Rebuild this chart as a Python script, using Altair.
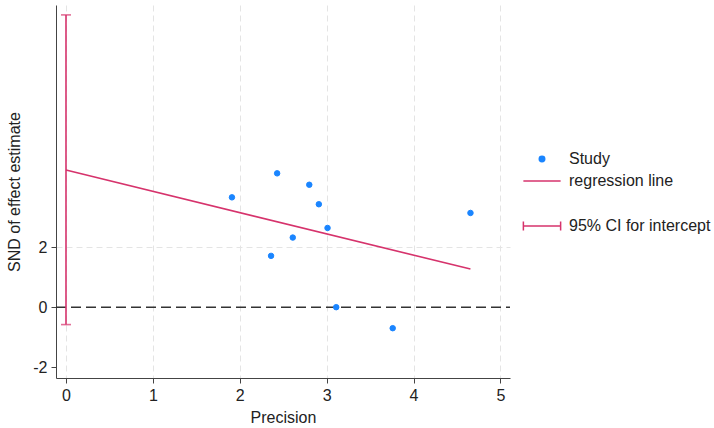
import altair as alt
import pandas as pd

# Study points (precision, SND of effect estimate)
precision = [1.91, 2.43, 2.80, 2.91, 3.01, 2.61, 2.36, 3.11, 3.76, 4.655]
snd = [3.66, 4.46, 4.08, 3.43, 2.64, 2.32, 1.71, 0.0, -0.70, 3.14]

# Regression line end points
reg_x = [0.0, 4.655]
reg_y = [4.57, 1.27]

# 95% CI for intercept
ci_x = [0.0]
ci_lo = [-0.58]
ci_hi = [9.74]

x_ticks = [0, 1, 2, 3, 4, 5]
y_ticks = [-2, 0, 2]

BLUE = "#1a85ff"
PINK = "#d6336c"
FONT = "Liberation Sans"
FS = 16

xdom = [-0.115, 5.11]
ydom = [-2.36, 10.07]

pts = pd.DataFrame({"precision": precision, "snd": snd, "series": "Study"})
reg = pd.DataFrame({"precision": reg_x, "snd": reg_y})
ci = pd.DataFrame({"precision": ci_x, "lo": ci_lo, "hi": ci_hi, "ci": "95% CI for intercept"})
zero = pd.DataFrame({"y": [0]})

xenc = alt.X("precision:Q", scale=alt.Scale(domain=xdom, nice=False, zero=False),
             axis=alt.Axis(values=x_ticks, title="Precision", grid=True,
                           gridDash=[6, 4], gridColor="#e4e4e4",
                           labelExpr="toString(datum.value)"))
yenc = alt.Y("snd:Q", scale=alt.Scale(domain=ydom, nice=False, zero=False),
             axis=alt.Axis(values=y_ticks, title="SND of effect estimate", grid=True,
                           gridDash=[6, 4], gridColor="#e4e4e4",
                           gridOpacity={"condition": {"test": "datum.value == 2", "value": 1}, "value": 0},
                           labelExpr="toString(datum.value)"))

series_legend = alt.Legend(orient="none", legendX=478, legendY=146,
                           symbolSize=30, symbolStrokeWidth=1.5,
                           labelOffset=19, rowPadding=6, padding=0,
                           labelFontSize=FS, labelFont=FONT, labelColor="#222")

sdom = ["Study", "regression line"]
base_pts = alt.Chart(pts).mark_point(filled=True, size=30, strokeWidth=1, opacity=1).encode(
    x=xenc, y=yenc,
    shape=alt.Shape("series:N", title=None,
                    scale=alt.Scale(domain=sdom, range=["circle", "M-6.8,0H6.8"]),
                    legend=series_legend),
    fill=alt.Fill("series:N", title=None,
                  scale=alt.Scale(domain=sdom, range=[BLUE, PINK]),
                  legend=series_legend),
    stroke=alt.Stroke("series:N", title=None,
                      scale=alt.Scale(domain=sdom, range=[BLUE, PINK]),
                      legend=series_legend),
)

reg_line = alt.Chart(reg).mark_line(color=PINK, strokeWidth=1.6).encode(
    x="precision:Q", y="snd:Q")

ci_rule = alt.Chart(ci).mark_rule(strokeWidth=1.6).encode(
    x="precision:Q", y="lo:Q", y2="hi:Q",
    color=alt.Color("ci:N", title=None,
                    scale=alt.Scale(domain=["95% CI for intercept"], range=[PINK]),
                    legend=alt.Legend(orient="none", legendX=478, legendY=213,
                                      symbolType="M-6.8,0H6.8M-6.8,-1.6V1.6M6.8,-1.6V1.6",
                                      symbolSize=30, symbolStrokeWidth=1.5,
                                      labelOffset=19, padding=0,
                                      labelFontSize=FS, labelFont=FONT, labelColor="#222")),
)

ci_caps = alt.Chart(ci).transform_fold(["lo", "hi"], as_=["end", "val"]).mark_tick(
    color=PINK, orient="horizontal", size=10, thickness=1.6).encode(
    x="precision:Q", y="val:Q")

zero_line = alt.Chart(zero).mark_rule(color="#333333", strokeDash=[10, 5], strokeWidth=1.5).encode(
    y="y:Q", x=alt.value(0), x2=alt.value(454))

chart = alt.layer(zero_line, reg_line, ci_rule, ci_caps, base_pts).properties(
    width=454, height=373,
    autosize=alt.AutoSizeParams(type="none"),
    padding={"left": 56, "top": 5, "right": 204, "bottom": 50},
).configure_view(stroke=None).configure_axis(
    labelFont=FONT, titleFont=FONT, labelFontSize=FS, titleFontSize=FS,
    labelColor="#222", titleColor="#222", titleFontWeight="normal",
    domainColor="#444", tickColor="#444", tickSize=5, labelPadding=4,
).configure_axisX(titlePadding=6).configure_axisY(titlePadding=10, labelAngle=0)

chart.save("out.html", embed_options={"renderer": "svg", "actions": False})
